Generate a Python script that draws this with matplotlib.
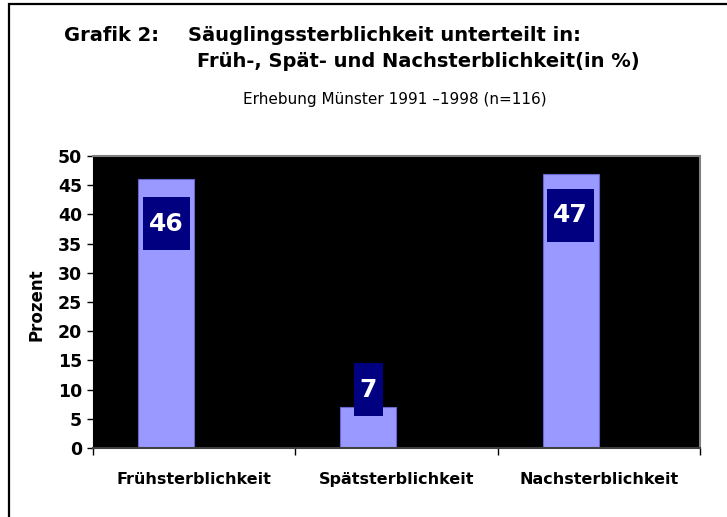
import matplotlib
matplotlib.use("Agg")
import matplotlib.pyplot as plt
import numpy as np
from matplotlib.path import Path
from matplotlib.patches import Rectangle

# Daten (Erhebung Münster 1991-1998, n=116)
kategorien = ["Frühsterblichkeit", "Spätsterblichkeit", "Nachsterblichkeit"]
werte = [46, 7, 47]
y_ticks = list(range(0, 55, 5))

# Position der Beschriftungskästen relativ zur Balkenoberkante (Punkte)
label_offset = [-32, 12.5, -30]

BALKEN = "#9999FF"
KASTEN = "#000080"


def label_box(x0, y0, width, height, mutation_size):
    # rechteckiger Kasten, innen oben/unten mehr Rand als seitlich
    px = 0.24 * mutation_size
    py = 0.58 * mutation_size
    return Path([(x0 - px, y0 - py), (x0 + width + px, y0 - py),
                 (x0 + width + px, y0 + height + py), (x0 - px, y0 + height + py),
                 (x0 - px, y0 - py)], closed=True)


W, H = 727, 517
fig = plt.figure(figsize=(W / 100, H / 100), dpi=100)
ax = fig.add_axes([93 / W, 69 / H, 607 / W, 292 / H])
ax.set_facecolor("black")

x = np.arange(len(kategorien))
breite = 0.277
ax.bar(x - breite / 2, werte, width=breite, color=BALKEN, edgecolor="#6666CC",
       linewidth=0.8, zorder=2)

for xi, v, off in zip(x - breite / 2, werte, label_offset):
    ax.annotate(str(v), xy=(xi, v), xytext=(0, off), textcoords="offset points",
                ha="center", va="center", fontsize=18, fontweight="bold", color="white",
                bbox=dict(boxstyle=label_box, fc=KASTEN, ec="none"), zorder=3)

ax.set_xlim(-0.5, len(kategorien) - 0.5)
ax.set_ylim(0, 50)
ax.set_yticks(y_ticks)
ax.tick_params(axis="y", labelsize=12.5, length=4, width=1, pad=4)
for t in ax.get_yticklabels():
    t.set_fontweight("bold")

# Kategorie-Trennstriche als Hauptticks, Beschriftung als Nebenticks
ax.set_xticks(np.arange(-0.5, len(kategorien), 1.0))
ax.set_xticklabels([])
ax.set_xticks(x, minor=True)
ax.set_xticklabels(kategorien, minor=True, fontsize=11.5, fontweight="bold")
ax.tick_params(axis="x", which="major", length=5, width=1)
ax.tick_params(axis="x", which="minor", length=0, pad=17)

ax.set_ylabel("Prozent", fontsize=12, fontweight="bold")
ax.yaxis.set_label_coords(-0.078, 0.49)

for s in ["top", "right"]:
    ax.spines[s].set_color("#808080")
    ax.spines[s].set_linewidth(1.5)
ax.spines["left"].set_color("black")
ax.spines["bottom"].set_color("#404040")
ax.spines["bottom"].set_linewidth(1.5)

# Titel
fig.text(64 / W, 1 - 41 / H, "Grafik 2:", fontsize=14, fontweight="bold", va="baseline")
fig.text(188 / W, 1 - 41 / H, "Säuglingssterblichkeit unterteilt in:", fontsize=14,
         fontweight="bold", va="baseline")
fig.text(197 / W, 1 - 67 / H, "Früh-, Spät- und Nachsterblichkeit(in %)", fontsize=14,
         fontweight="bold", va="baseline")
fig.text(395 / W, 1 - 104 / H, "Erhebung Münster 1991 –1998 (n=116)", fontsize=11,
         ha="center", va="baseline")

# Rahmen um die Grafik (nur links/oben sichtbar)
fig.patches.append(Rectangle((9 / W, -0.1), 1.2, 1.1 - 4 / H, transform=fig.transFigure,
                             fill=False, edgecolor="black", linewidth=1.6))

fig.savefig("out.png", dpi=100)
